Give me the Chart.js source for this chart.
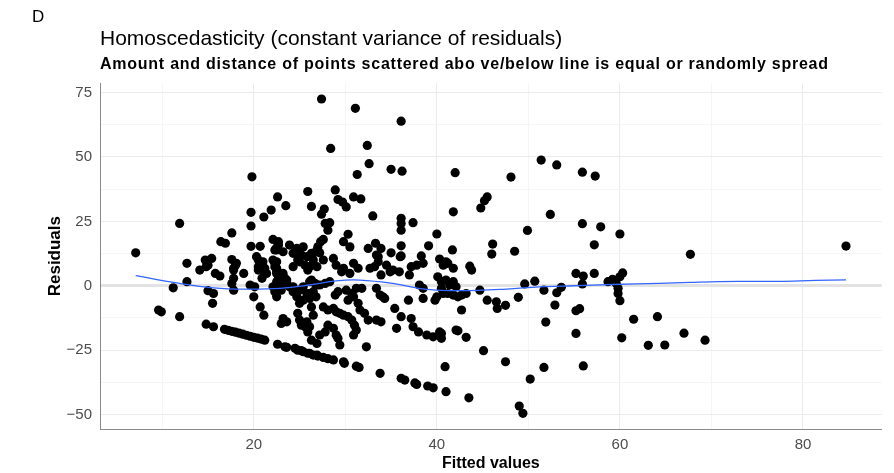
<!DOCTYPE html>
<html>
<head>
<meta charset="utf-8">
<script src="https://cdn.jsdelivr.net/npm/chart.js@4.4.1/dist/chart.umd.min.js"></script>
<style>
  html, body { margin: 0; padding: 0; background: #fff; }
</style>
</head>
<body>
<canvas id="resid" width="894" height="473"></canvas>
<script>
// fitted values and their residuals (same order in both arrays)
const fitted = [
  7.1, 11.9, 16.4, 16.9, 17.6, 19.7, 20.7, 19.7, 19.7, 19.8, 21.1, 21.9, 22.1, 22.5, 22.6, 22.7, 23.5, 23.9, 24.7, 25.4,
  24.3, 24.9, 25.8, 26.3, 26.9, 25.0, 25.6, 26.5, 12.7, 14.7, 15.4, 14.8, 17.6, 18.1, 17.8, 20.3, 20.5, 20.9, 22.5, 22.5,
  27.4, 31.1, 36.1, 28.4, 32.4, 32.6, 31.3, 35.0, 36.2, 25.9, 28.9, 26.3, 29.2, 29.7, 30.1, 30.9, 31.7, 27.7, 27.4, 33.0,
  27.8, 28.3, 28.1, 36.1, 36.1, 36.1, 37.4, 40.0, 30.3, 29.8, 30.5, 27.3, 27.6, 27.0, 22.7, 22.5, 32.5, 33.3, 33.9, 36.1,
  35.0, 36.1, 39.1, 38.3, 40.3, 42.0, 41.8, 26.5, 27.2, 33.6, 36.0, 37.8, 37.2, 41.0, 41.7, 33.2,
  15.0, 14.1, 15.8, 16.3, 18.0, 17.8, 18.9, 21.0, 21.1, 20.5, 22.5, 22.5, 17.8, 17.6, 17.8, 12.7, 11.2, 15.0, 15.6, 15.5,
  19.6, 20.1, 20.0, 20.7, 21.1, 22.5, 22.5, 9.6, 9.9, 11.9, 14.8, 15.6,
  16.8, 17.2, 17.6, 18.0, 18.4, 18.8, 19.2, 19.6, 20.0, 20.4, 20.8, 21.2, 22.6, 23.6, 24.5, 25.2, 26.1, 26.9,
  20.5, 21.2, 21.4, 20.9, 22.3, 22.7, 23.2, 23.2, 23.6, 23.9, 24.3, 24.7, 25.0, 25.4, 25.8, 26.1, 26.5, 26.9, 26.3, 25.9,
  26.9, 24.3, 23.2, 23.6, 23.0, 25.0, 25.6, 25.9, 26.3, 26.9, 26.5, 26.3, 24.8,
  22.3, 23.2, 25.2, 24.8, 26.1, 27.6, 28.7, 29.0, 29.8, 30.9, 31.4, 29.6, 30.5, 33.4, 33.6, 34.5, 35.2, 35.9, 37.0, 38.5,
  40.7, 22.1, 22.3, 22.5, 22.9, 23.4, 22.7, 22.1, 22.3, 23.0, 23.6, 24.3, 24.7, 25.0, 25.4,
  26.1, 26.7, 27.2, 27.8, 28.3, 26.1, 26.8, 28.9, 29.2, 30.1, 30.7, 31.2, 31.8, 30.3, 30.9, 31.4, 31.6,
  34.1, 34.3, 36.9, 38.5, 39.8, 27.6, 28.1, 28.7, 29.0, 29.4, 29.8, 30.3, 30.7, 31.0, 31.2, 30.9,
  32.1, 32.5, 33.4, 33.9, 35.4, 36.1, 35.6, 37.2, 37.4, 38.0, 38.9, 39.6, 40.3, 40.5,
  25.8, 25.2, 26.1, 28.1, 28.7, 27.8, 27.2, 29.0, 29.2, 29.4, 32.3,
  23.4, 24.8, 25.4, 25.9, 26.5, 27.0, 27.6, 28.1, 28.7, 29.8, 29.9, 31.2, 31.5, 33.8, 36.1, 36.5, 37.6, 37.8, 39.0, 39.6,
  41.0, 40.9, 33.8, 40.0, 41.2, 42.1, 42.3, 38.5, 40.5, 41.4, 41.0, 40.1, 41.2, 41.8, 38.1, 34.9, 33.9, 32.7, 33.4,
  51.4, 53.1, 55.9, 57.3, 48.1, 45.5, 45.2, 44.8, 52.4, 55.9, 57.9, 49.9, 60.0, 57.2, 46.1, 46.0, 48.5, 43.6, 43.8, 55.2,
  56.0, 57.2, 55.9, 60.3, 60.0, 59.2, 58.7, 59.6, 50.7, 49.6, 53.6, 53.1, 52.9, 51.7, 59.8, 59.8, 60.0, 40.5, 41.8, 42.1,
  40.7, 41.8, 42.7, 43.2, 44.7, 45.5, 46.5, 46.6, 47.5, 48.9, 42.7, 51.9, 55.2, 55.6, 61.5, 64.1, 40.5, 42.3, 43.2, 55.2,
  60.2, 63.1, 45.1, 47.5, 51.7, 56.0, 50.2, 43.5, 49.0, 49.4,
  67.7, 84.7, 64.9, 67.0, 69.3
];
const residuals = [
  12.8, 24.2, 17.1, 16.5, 20.5, 15.3, 15.3, 23.2, 28.5, 42.3, 26.7, 29.4, 18.0, 14.8, 34.5, 17.1, 31.1, 15.8, 14.5, 15.1,
  12.6, 10.6, 11.3, 12.6, 13.9, 9.3, 8.0, 10.0, 8.7, 10.0, 10.6, 7.4, 10.2, 8.7, 6.8, 11.3, 10.0, 8.7, 9.3, 6.8,
  72.5, 68.9, 63.9, 53.3, 54.5, 47.4, 43.2, 45.2, 44.5, 36.6, 37.2, 30.8, 33.5, 32.5, 30.6, 34.5, 33.7, 29.8, 27.8, 27.1,
  24.2, 24.5, 21.6, 26.2, 24.2, 21.6, 24.5, 20.1, 20.0, 17.1, 15.1, 17.1, 18.0, 15.1, 15.8, 13.9, 14.5, 16.5, 14.5, 15.5,
  12.8, 11.6, 15.5, 11.6, 10.4, 43.9, 28.7, 12.6, 12.8, 11.3, 11.3, 8.0, 7.4, 9.3, 13.9, 7.4,
  8.0, 6.1, 4.8, 3.8, 8.0, 6.1, 4.8, 9.3, 5.4, 7.4, 4.8, 1.6, 2.9, 0.9, -1.7, 1.6, -0.8, -1.9, -3.0, -6.8,
  0.3, -0.4, -4.3, -8.2, -11.4, -0.4, -4.3, -9.4, -10.1, -12.0, -14.9, -15.9,
  -16.9, -17.3, -17.7, -18.0, -18.4, -18.8, -19.2, -19.6, -20.0, -20.3, -20.7, -21.1, -22.7, -23.9, -24.3, -25.2, -26.2, -26.9,
  6.1, 6.8, 4.8, 2.9, 8.7, 2.9, 0.3, 4.8, 2.2, -0.4, -2.3, -4.3, -6.8, -5.6, -3.0, -4.9, -2.3, 0.3, 2.2, 6.1,
  7.4, 7.4, -12.7, -14.0, -14.6, -13.3, -15.9, -17.9, -21.1, -22.4, -11.4, -8.2, -10.7,
  13.9, 13.2, 11.9, 10.0, 7.4, 10.0, 10.6, 8.0, 6.8, 8.7, 6.8, 5.4, 4.8, 11.9, 9.3, 8.0, 6.1, 5.4, 4.2, 8.7,
  8.0, 10.0, 7.4, 5.4, 4.2, 2.9, 1.6, -0.4, -2.3, -1.7, 0.9, -0.4, -2.3, -1.7, -0.4,
  1.6, 0.9, 0.3, 0.9, 1.6, -3.0, -4.3, -3.6, -2.3, -1.7, -3.0, -1.0, -1.0, -5.6, -4.3, -6.8, -9.4,
  -4.3, -4.9, -5.6, -4.9, -5.6, -8.2, -9.4, -8.8, -10.1, -10.7, -11.4, -12.0, -13.3, -15.3, -17.2, -19.1,
  -10.7, -13.3, -13.3, -14.0, -8.8, -12.0, -16.5, -12.7, -15.9, -17.9, -19.1, -19.8, -17.9, -20.4,
  -14.0, -15.3, -15.9, -15.3, -16.5, -17.9, -19.1, -19.1, -20.4, -23.0, -23.7,
  -23.7, -25.0, -25.6, -26.2, -26.9, -27.3, -27.8, -28.3, -28.8, -29.5, -30.1, -31.2, -31.7, -34.0, -35.9, -36.6, -37.7, -38.3, -38.9, -39.6,
  -41.1, -31.4, -3.6, -4.3, -3.0, -17.2, -4.3, -1.0, -1.0, 0.3, 2.2, 3.5, 8.7, 6.8, 0.3, 5.4, 4.2, 6.8, -1.0,
  48.8, 46.9, 44.1, 42.6, 42.2, 34.5, 33.0, 30.2, 27.7, 24.1, 22.9, 21.5, 20.1, 15.9, 16.2, 12.3, 13.4, 7.6, 6.1, 4.8,
  3.8, 4.8, 0.7, 5.0, 3.5, 2.5, 1.6, 0.9, 1.8, 0.7, -0.6, -2.7, -7.5, -1.7, -1.0, -3.0, -5.8, 1.6, 1.6, -0.4,
  -3.0, -3.6, -3.6, -3.0, -1.7, -5.6, -6.2, -8.8, -7.6, -4.5, -9.4, -14.1, -9.7, -8.9, -13.0, -12.0, -18.5, -17.5, -20.0, -18.5,
  -20.2, -23.1, -25.2, -29.5, -31.7, -31.1, -36.2, -43.5, -46.7, -49.5,
  12.2, 15.4, -23.0, -18.4, -21.1
];

// smoothed trend through the residuals
const loessX = [7.1, 11.9, 15.6, 19.2, 22.9, 26.1, 29.0, 31.6, 35.2, 38.9, 42.5, 47.6, 51.2, 54.9, 59.2, 64.3, 67.7, 72.9, 77.4, 81.4, 84.7];
const loessY = [3.9, 0.9, -0.8, -1.3, -1.0, 0.3, 1.9, 2.2, 0.9, -1.4, -1.9, -1.3, -0.4, 0.0, 0.5, 0.9, 1.3, 1.7, 1.7, 2.1, 2.3];

const xMajor = [20, 40, 60, 80];
const xMinor = [10, 30, 50, 70];
const yMajor = [-50, -25, 0, 25, 50, 75];
const yMinor = [-37.5, -12.5, 12.5, 37.5, 62.5];

const FONT = "'Liberation Sans', Arial, sans-serif";

const points = fitted.map((x, i) => ({ x: x, y: residuals[i] }));
const trend = loessX.map((x, i) => ({ x: x, y: loessY[i] }));

function setTicks(major, minor) {
  return function (scale) {
    scale.ticks = major.concat(minor).sort((a, b) => a - b).map(v => ({ value: v }));
  };
}

function gridColor(major) {
  return function (c) {
    if (!c.tick) return '#ebebeb';
    if (c.tick.value === 0 && major === yMajor) return '#e3e3e3';
    return major.includes(c.tick.value) ? '#ebebeb' : '#f5f5f5';
  };
}

function tickLabel(major) {
  return function (value) {
    if (!major.includes(value)) return '';
    return value < 0 ? '\u2212' + Math.abs(value) : String(value);
  };
}

// headings and axis titles
const labelsPlugin = {
  id: 'labels',
  afterDraw(chart) {
    const ctx = chart.ctx;
    const area = chart.chartArea;
    ctx.save();
    ctx.fillStyle = '#000';
    ctx.textBaseline = 'alphabetic';
    ctx.textAlign = 'left';
    ctx.font = '17px ' + FONT;
    ctx.fillText('D', 32, 22);
    ctx.font = '21px ' + FONT;
    ctx.fillText('Homoscedasticity (constant variance of residuals)', area.left, 45);
    ctx.font = 'bold 16px ' + FONT;
    ctx.letterSpacing = '0.75px';
    ctx.fillText('Amount and distance of points scattered abo ve/below line is equal or randomly spread', area.left, 69);
    ctx.letterSpacing = '0px';

    ctx.textAlign = 'center';
    ctx.font = 'bold 16px ' + FONT;
    ctx.fillText('Fitted values', (area.left + area.right) / 2, 468);
    ctx.font = 'bold 17px ' + FONT;
    ctx.translate(60, (area.top + area.bottom) / 2);
    ctx.rotate(-Math.PI / 2);
    ctx.fillText('Residuals', 0, 0);
    ctx.restore();
  }
};

new Chart(document.getElementById('resid'), {
  type: 'scatter',
  data: {
    datasets: [
      {
        label: 'loess',
        data: trend,
        showLine: true,
        borderColor: '#3366FF',
        borderWidth: 1.3,
        pointRadius: 0,
        tension: 0.4,
        order: 0
      },
      {
        label: 'residuals',
        data: points,
        backgroundColor: '#000',
        borderWidth: 0,
        pointRadius: 4.6,
        order: 1
      }
    ]
  },
  options: {
    responsive: false,
    devicePixelRatio: 1,
    animation: false,
    events: [],
    layout: { padding: { top: 83.3, right: 12.3, bottom: 0, left: 0 } },
    plugins: {
      legend: { display: false },
      tooltip: { enabled: false }
    },
    scales: {
      x: {
        type: 'linear',
        min: 3.2,
        max: 88.6,
        afterBuildTicks: setTicks(xMajor, xMinor),
        afterFit(scale) { scale.height = 44; },
        grid: { color: gridColor(xMajor), lineWidth: 1, drawTicks: false },
        border: { display: true, color: '#8a8a8a', width: 1 },
        ticks: {
          autoSkip: false,
          maxRotation: 0,
          padding: 7,
          color: '#4d4d4d',
          font: { family: FONT, size: 15 },
          callback: tickLabel(xMajor)
        }
      },
      y: {
        type: 'linear',
        min: -55.6,
        max: 78.6,
        afterBuildTicks: setTicks(yMajor, yMinor),
        afterFit(scale) { scale.width = 100; },
        grid: {
          color: gridColor(yMajor),
          lineWidth: c => (c.tick && c.tick.value === 0 ? 3 : 1),
          drawTicks: false
        },
        border: { display: true, color: '#8a8a8a', width: 1 },
        ticks: {
          autoSkip: false,
          padding: 8,
          color: '#4d4d4d',
          font: { family: FONT, size: 15 },
          callback: tickLabel(yMajor)
        }
      }
    }
  },
  plugins: [labelsPlugin]
});
</script>
</body>
</html>
